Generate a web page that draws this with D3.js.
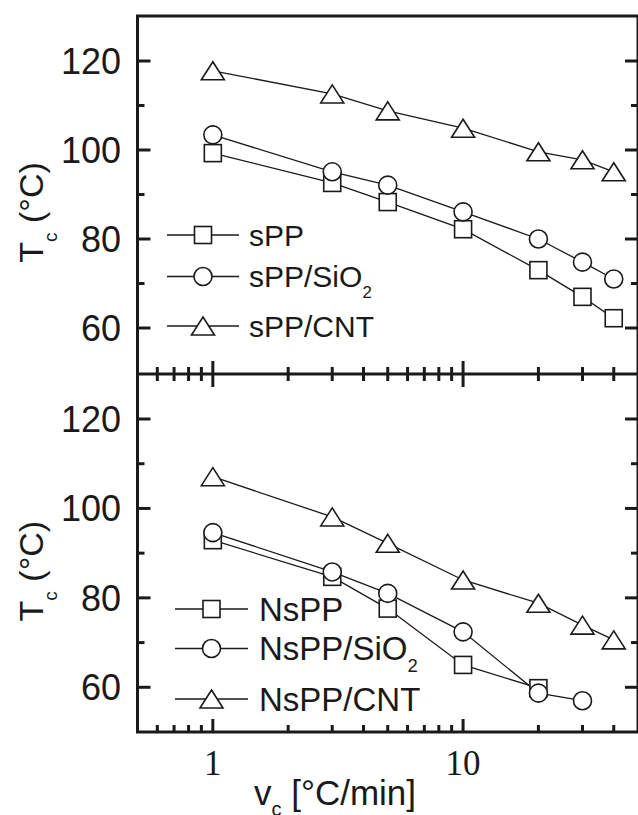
<!DOCTYPE html>
<html>
<head>
<meta charset="utf-8">
<script src="https://cdn.jsdelivr.net/npm/d3@7"></script>
<style>
  body { margin: 0; background: #fff; }
  svg { display: block; }
  text { font-family: "Liberation Sans", Arial, sans-serif; fill: #1a1a1a; }
</style>
</head>
<body>
<div id="chart"></div>
<script>
// cooling rate (°C/min)
var rates = [1, 3, 5, 10, 20, 30, 40]
// top panel
var sPP = [99.3, 92.6, 88.3, 82.2, 73.0, 67.0, 62.2]
var sPP_SiO2 = [103.4, 95.1, 92.1, 86.1, 80.0, 74.8, 71.0]
var sPP_CNT = [117.8, 112.6, 108.8, 104.9, 99.6, 97.8, 95.1]
// bottom panel (NsPP stops at 20, NsPP/SiO2 at 30)
var NsPP = [92.9, 84.7, 77.6, 65.0, 59.8]
var NsPP_SiO2 = [94.6, 85.8, 81.0, 72.4, 58.7, 57.0]
var NsPP_CNT = [107.1, 98.1, 92.2, 84.0, 78.8, 73.9, 70.6]

var yTicks = [60, 80, 100, 120]
var yMinor = [70, 90, 110]
var xMajor = [1, 10]
var xMinor = [0.6, 0.7, 0.8, 0.9, 2, 3, 4, 5, 6, 7, 8, 9, 20, 30, 40]

var topSeries = [
  {name: "sPP", sub: "", values: sPP, shape: "square"},
  {name: "sPP/SiO", sub: "2", values: sPP_SiO2, shape: "circle"},
  {name: "sPP/CNT", sub: "", values: sPP_CNT, shape: "triangle"}
]
var botSeries = [
  {name: "NsPP", sub: "", values: NsPP, shape: "square"},
  {name: "NsPP/SiO", sub: "2", values: NsPP_SiO2, shape: "circle"},
  {name: "NsPP/CNT", sub: "", values: NsPP_CNT, shape: "triangle"}
]

var width = 638, height = 815
var left = 137.5, right = 638
var ink = "#1a1a1a"

var svg = d3.select("#chart").append("svg").attr("width", width).attr("height", height)

var x = d3.scaleLog().domain([0.5, 50]).range([left, right])
var yTop = d3.scaleLinear().domain([50, 130]).range([372.5, 16.5])
var yBot = d3.scaleLinear().domain([50, 130]).range([732, 374.3])

var marker = function (g, shape, cx, cy) {
  var m
  if (shape == "square") {
    m = g.append("rect").attr("x", cx - 8.5).attr("y", cy - 8.5).attr("width", 17).attr("height", 17)
  } else if (shape == "circle") {
    m = g.append("circle").attr("cx", cx).attr("cy", cy).attr("r", 9)
  } else {
    m = g.append("path").attr("d", "M" + cx + "," + (cy - 9) + "L" + (cx + 11.5) + "," + (cy + 9) + "L" + (cx - 11.5) + "," + (cy + 9) + "Z")
  }
  m.attr("fill", "#fff").attr("stroke", ink).attr("stroke-width", 1.6)
}

var panel = function (y, series, legend) {
  var g = svg.append("g")
  // left + right axis ticks
  yTicks.forEach(function (v) {
    g.append("line").attr("x1", left).attr("x2", left + 13).attr("y1", y(v)).attr("y2", y(v)).attr("stroke", ink).attr("stroke-width", 3)
    g.append("line").attr("x1", right - 13).attr("x2", right).attr("y1", y(v)).attr("y2", y(v)).attr("stroke", ink).attr("stroke-width", 3)
    g.append("text").attr("x", 121).attr("y", y(v) + 13).attr("text-anchor", "end")
      .style("font-size", "36px").text(v)
  })
  yMinor.forEach(function (v) {
    g.append("line").attr("x1", left).attr("x2", left + 7).attr("y1", y(v)).attr("y2", y(v)).attr("stroke", ink).attr("stroke-width", 3)
    g.append("line").attr("x1", right - 7).attr("x2", right).attr("y1", y(v)).attr("y2", y(v)).attr("stroke", ink).attr("stroke-width", 3)
  })

  // lines then markers
  var line = d3.line().x(function (d, i) { return x(rates[i]) }).y(function (d) { return y(d) })
  series.forEach(function (s) {
    g.append("path").attr("d", line(s.values)).attr("fill", "none").attr("stroke", ink).attr("stroke-width", 1.3)
  })
  series.forEach(function (s) {
    s.values.forEach(function (v, i) { marker(g, s.shape, x(rates[i]), y(v)) })
  })

  // legend
  legend.rows.forEach(function (ry, i) {
    var s = series[i]
    g.append("line").attr("x1", legend.x0).attr("x2", legend.x1).attr("y1", ry).attr("y2", ry).attr("stroke", ink).attr("stroke-width", 1.3)
    marker(g, s.shape, (legend.x0 + legend.x1) / 2, ry)
    var t = g.append("text").attr("x", legend.tx).attr("y", ry + legend.fs * 0.36).style("font-size", legend.fs + "px")
    t.append("tspan").text(s.name)
    if (s.sub) t.append("tspan").attr("dy", legend.fs * 0.36).style("font-size", (legend.fs * 0.56) + "px").text(s.sub)
  })

  // y title
  var cy = (y.range()[0] + y.range()[1]) / 2 + 18
  var tt = g.append("text").attr("transform", "translate(43," + cy + ") rotate(-90)")
    .attr("text-anchor", "middle").style("font-size", "34px")
  tt.append("tspan").text("T")
  tt.append("tspan").attr("dy", 14).style("font-size", "19px").text("c")
  tt.append("tspan").attr("dy", -14).text(" (°C)")
}

panel(yTop, topSeries, {x0: 167, x1: 239, tx: 249, fs: 30, rows: [235, 276.5, 326]})
panel(yBot, botSeries, {x0: 175, x1: 248, tx: 259, fs: 33, rows: [609, 648.5, 699]})

// x ticks: middle line gets both directions, bottom inward only
var mid = 374, bot = 732
xMinor.forEach(function (v) {
  svg.append("line").attr("x1", x(v)).attr("x2", x(v)).attr("y1", mid - 7).attr("y2", mid + 7).attr("stroke", ink).attr("stroke-width", 3)
  svg.append("line").attr("x1", x(v)).attr("x2", x(v)).attr("y1", bot - 7).attr("y2", bot).attr("stroke", ink).attr("stroke-width", 3)
})
xMajor.forEach(function (v) {
  svg.append("line").attr("x1", x(v)).attr("x2", x(v)).attr("y1", mid - 13).attr("y2", mid + 13).attr("stroke", ink).attr("stroke-width", 3)
  svg.append("line").attr("x1", x(v)).attr("x2", x(v)).attr("y1", bot - 13).attr("y2", bot).attr("stroke", ink).attr("stroke-width", 3)
  svg.append("text").attr("x", x(v)).attr("y", 775).attr("text-anchor", "middle")
    .style("font-family", "'Liberation Serif', 'Times New Roman', serif").style("font-size", "35px").text(v)
})

// frame
svg.append("path")
  .attr("d", "M" + left + ",16V" + bot + "H" + right + "V16Z M" + left + "," + mid + "H" + right)
  .attr("fill", "none").attr("stroke", ink).attr("stroke-width", 3)

// x title
var xt = svg.append("text").attr("x", 335).attr("y", 805).attr("text-anchor", "middle").style("font-size", "35px")
xt.append("tspan").text("v")
xt.append("tspan").attr("dy", 11).style("font-size", "20px").text("c")
xt.append("tspan").attr("dy", -11).text(" [°C/min]")
</script>
</body>
</html>
